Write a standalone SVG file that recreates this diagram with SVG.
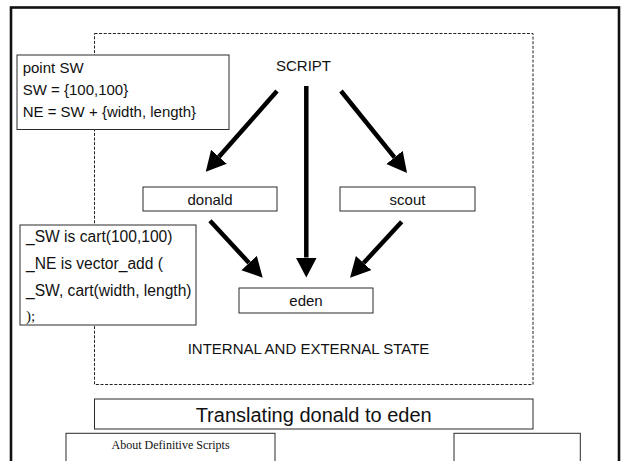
<svg xmlns="http://www.w3.org/2000/svg" width="623" height="461" viewBox="0 0 623 461">
  <style>
    .frame { fill: none; stroke: #111; stroke-width: 2.6; }
    .region { fill: none; stroke: #222; stroke-width: 1; stroke-dasharray: 3 1.6; }
    .box { fill: #fff; stroke: #2a2a2a; stroke-width: 1; }
    .txt { font-family: "Liberation Sans", Arial, sans-serif; font-size: 15px; fill: #111; }
    .mid { text-anchor: middle; }
    .serif { font-family: "Liberation Serif", "Times New Roman", serif; }
    .edge { fill: none; stroke: #000; stroke-width: 4.5; }
  </style>
  <defs>
    <marker id="head" markerUnits="userSpaceOnUse" markerWidth="22" markerHeight="23" refX="0" refY="10.5" orient="auto">
      <path d="M0,0 L20,10.5 L0,21 z" fill="#000"/>
    </marker>
  </defs>

  <rect fill="#fff" x="0" y="0" width="623" height="461"/>

  <!-- outer slide frame -->
  <rect class="frame" x="11" y="7.5" width="608" height="470"/>

  <!-- dashed state region -->
  <g id="state">
    <rect class="region" x="94.5" y="33.5" width="438.5" height="351"/>
    <text class="txt mid" x="308.5" y="354.3">INTERNAL AND EXTERNAL STATE</text>
  </g>

  <g id="script">
    <text class="txt mid" x="303.5" y="70.7">SCRIPT</text>
  </g>

  <g id="donald-code">
    <rect class="box" x="17" y="55" width="212" height="74.5"/>
    <text class="txt" x="22.7" y="73">point SW</text>
    <text class="txt" x="22.7" y="95">SW = {100,100}</text>
    <text class="txt" x="22.7" y="117">NE = SW + {width, length}</text>
  </g>

  <g id="eden-code">
    <rect class="box" x="20" y="225" width="176" height="100"/>
    <text class="txt" x="26" y="242" style="font-size:15.6px">_SW is cart(100,100)</text>
    <text class="txt" x="26" y="269" style="font-size:15.6px">_NE is vector_add (</text>
    <text class="txt" x="26" y="295.7" style="font-size:15.6px">_SW, cart(width, length)</text>
    <text class="txt serif" x="26" y="321" style="font-size:15px">);</text>
  </g>

  <g id="donald">
    <rect class="box" x="143" y="187" width="134" height="24"/>
    <text class="txt mid" x="210" y="205">donald</text>
  </g>

  <g id="scout">
    <rect class="box" x="340" y="187" width="135" height="24"/>
    <text class="txt mid" x="407.5" y="205">scout</text>
  </g>

  <g id="eden">
    <rect class="box" x="239" y="288" width="134" height="25"/>
    <text class="txt mid" x="306" y="306">eden</text>
  </g>

  <g id="connectors">
    <line class="edge" x1="277" y1="91" x2="219" y2="156.8" marker-end="url(#head)"/>
    <line class="edge" x1="341" y1="91" x2="394.5" y2="157.4" marker-end="url(#head)"/>
    <line class="edge" x1="306.3" y1="86" x2="306.3" y2="257.5" marker-end="url(#head)"/>
    <line class="edge" x1="210" y1="220.7" x2="249.1" y2="263" marker-end="url(#head)"/>
    <line class="edge" x1="401.7" y1="221.7" x2="363.6" y2="263" marker-end="url(#head)"/>
  </g>

  <g id="title">
    <rect class="box" x="94.5" y="399" width="438.5" height="30"/>
    <text class="txt mid" x="313.7" y="422.3" style="font-size:20px">Translating donald to eden</text>
  </g>

  <g id="about">
    <rect class="box" x="66" y="433.3" width="209" height="40"/>
    <text class="txt serif mid" x="170.6" y="449" style="font-size:12px">About Definitive Scripts</text>
  </g>

  <g id="blank-panel">
    <rect class="box" x="454" y="433.3" width="126.3" height="40"/>
  </g>
</svg>
